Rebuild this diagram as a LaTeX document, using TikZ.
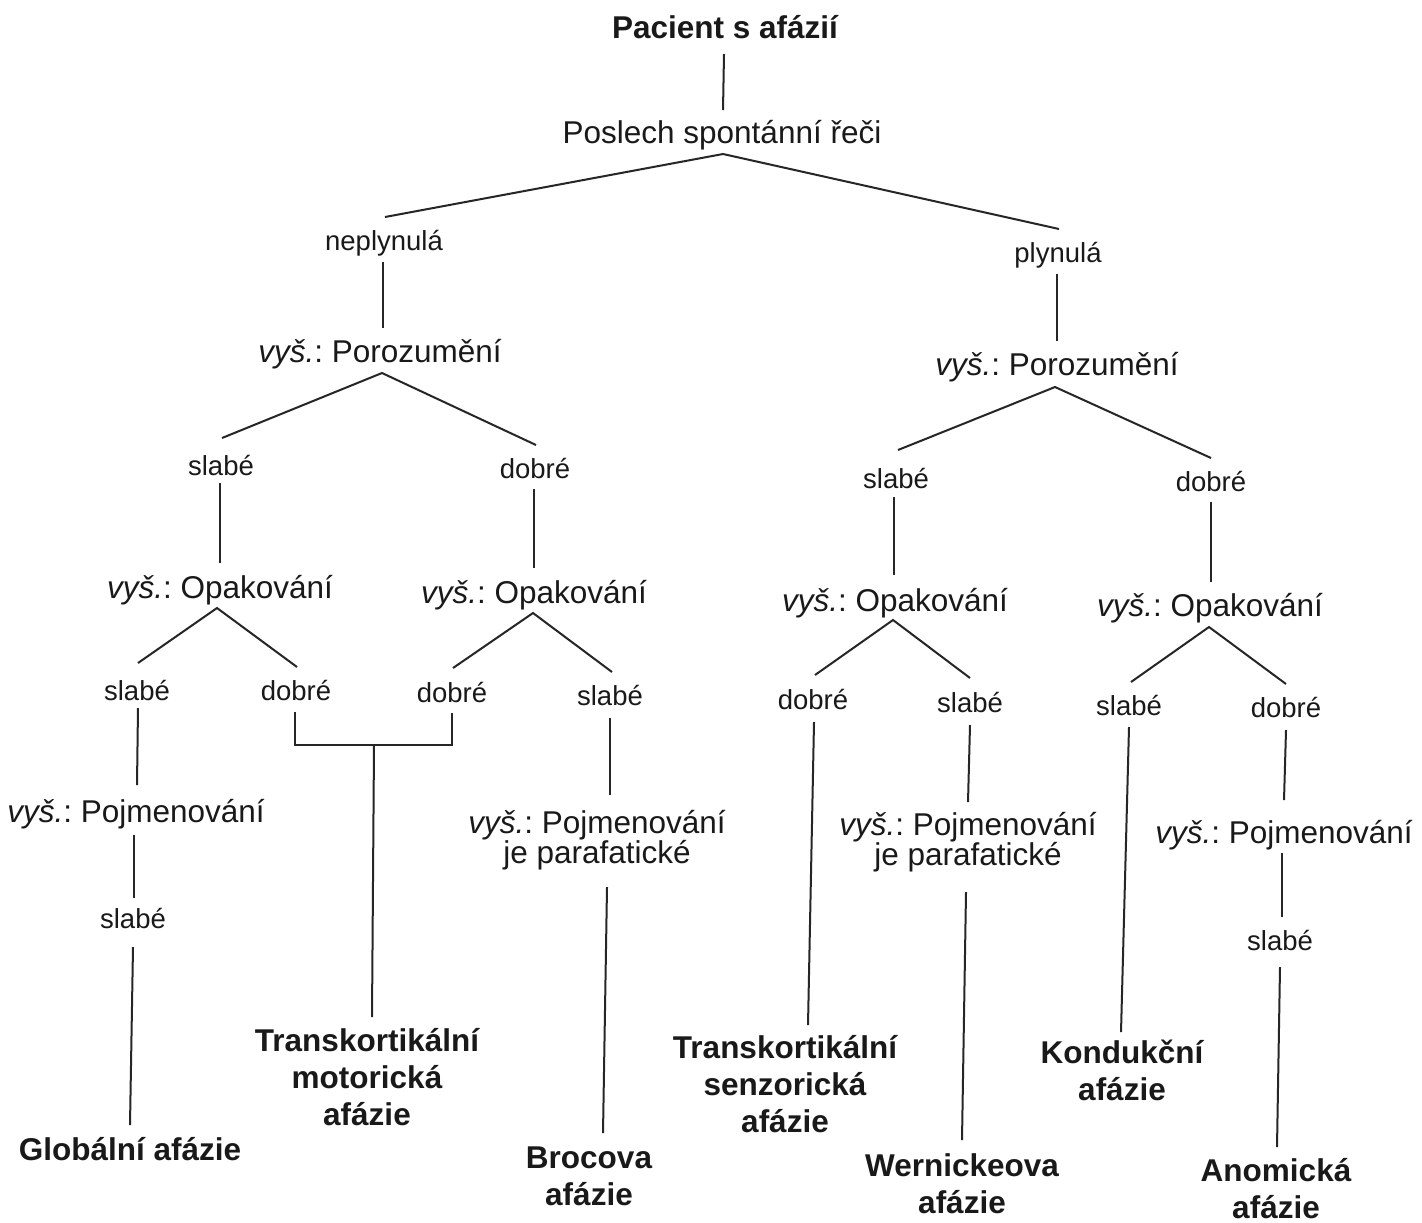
\documentclass[tikz,border=0pt]{standalone}
\usepackage{fontspec}
\setmainfont{Liberation Sans}
\usetikzlibrary{calc}
\tikzset{
  lbl/.style={inner sep=0pt, outer sep=0pt, anchor=base, text=black!90,
    font=\fontsize{15.75pt}{15pt}\selectfont, align=center},
  sml/.style={lbl, font=\fontsize{13.75pt}{16pt}\selectfont},
  res/.style={lbl, font=\fontsize{15.75pt}{18.5pt}\selectfont\bfseries},
  edge/.style={draw=black!85, line width=1pt}
}
\newcommand{\vys}{\textit{vyš.}:~}
\begin{document}
\begin{tikzpicture}[x=0.5pt,y=-0.5pt]
\useasboundingbox[fill=white] (0,0) rectangle (1422,1222);
% nodes (multi-line nodes: base = baseline of the last line)
\node[res] (p0) at (725,38) {Pacient s afázií};
\node[lbl] (p1) at (722,143) {Poslech spontánní řeči};
\node[sml] (n1) at (384,250) {neplynulá};
\node[sml] (f1) at (1058,262) {plynulá};
\node[lbl] (lp) at (380,362) {\vys Porozumění};
\node[lbl] (rp) at (1057,375) {\vys Porozumění};
\node[sml] (s1) at (221,475) {slabé};
\node[sml] (d1) at (535,478) {dobré};
\node[sml] (s2) at (896,488) {slabé};
\node[sml] (d2) at (1211,491) {dobré};
\node[lbl] (o1) at (220,598) {\vys Opakování};
\node[lbl] (o2) at (534,603) {\vys Opakování};
\node[lbl] (o3) at (895,611) {\vys Opakování};
\node[lbl] (o4) at (1210,616) {\vys Opakování};
\node[sml] (la) at (137,700) {slabé};
\node[sml] (lb) at (296,700) {dobré};
\node[sml] (lc) at (452,702) {dobré};
\node[sml] (ld) at (610,705) {slabé};
\node[sml] (le) at (813,709) {dobré};
\node[sml] (lf) at (970,712) {slabé};
\node[sml] (lg) at (1129,715) {slabé};
\node[sml] (lh) at (1286,717) {dobré};
\node[lbl] (q1) at (136,822) {\vys Pojmenování};
\node[sml] (q1s) at (133,928) {slabé};
\node[res] (glob) at (130,1160) {Globální afázie};
\node[res] (tm) at (367,1125) {Transkortikální\\motorická\\afázie};
\node[lbl] (r1) at (597,863) {\vys Pojmenování\\je parafatické};
\node[res] (broca) at (589,1205) {Brocova\\afázie};
\node[res] (ts) at (785,1132) {Transkortikální\\senzorická\\afázie};
\node[lbl] (r2) at (968,865) {\vys Pojmenování\\je parafatické};
\node[res] (wern) at (962,1213) {Wernickeova\\afázie};
\node[res] (kond) at (1122,1100) {Kondukční\\afázie};
\node[lbl] (q2) at (1284,843) {\vys Pojmenování};
\node[sml] (q2s) at (1280,950) {slabé};
\node[res] (anom) at (1276,1218) {Anomická\\afázie};
\coordinate (join) at (374,745);
% connectors
\draw[edge] ($(p0.base)+(-1,16)$) -- ($(p1.base)+(1,-33)$);
\draw[edge] ($(n1.base)+(1,-33)$) -- ($(p1.base)+(1,11)$) -- ($(f1.base)+(1,-33)$);
\draw[edge] ($(n1.base)+(-1,12)$) -- ($(lp.base)+(3,-34)$);
\draw[edge] ($(f1.base)+(-1,12)$) -- ($(rp.base)+(0,-34)$);
\draw[edge] ($(s1.base)+(1,-37)$) -- ($(lp.base)+(2,11)$) -- ($(d1.base)+(1,-33)$);
\draw[edge] ($(s2.base)+(2,-38)$) -- ($(rp.base)+(-2,12)$) -- ($(d2.base)+(0,-33)$);
\draw[edge] ($(s1.base)+(-1,8)$) -- ($(o1.base)+(0,-35)$);
\draw[edge] ($(d1.base)+(-1,11)$) -- ($(o2.base)+(0,-35)$);
\draw[edge] ($(s2.base)+(-2,9)$) -- ($(o3.base)+(-1,-36)$);
\draw[edge] ($(d2.base)+(0,11)$) -- ($(o4.base)+(1,-34)$);
\draw[edge] ($(la.base)+(1,-37)$) -- ($(o1.base)+(-3,10)$) -- ($(lb.base)+(1,-33)$);
\draw[edge] ($(lc.base)+(1,-34)$) -- ($(o2.base)+(-1,10)$) -- ($(ld.base)+(2,-33)$);
\draw[edge] ($(le.base)+(2,-34)$) -- ($(o3.base)+(-2,9)$) -- ($(lf.base)+(0,-34)$);
\draw[edge] ($(lg.base)+(2,-33)$) -- ($(o4.base)+(-1,11)$) -- ($(lh.base)+(0,-33)$);
\draw[edge] ($(la.base)+(1,8)$) -- ($(q1.base)+(1,-37)$);
\draw[edge] ($(q1.base)+(-2,13)$) -- ($(q1s.base)+(1,-30)$);
\draw[edge] ($(q1s.base)+(0,19)$) -- ($(glob.base)+(0,-35)$);
\draw[edge] ($(lb.base)+(-1,12)$) |- (join) -| ($(lc.base)+(0,11)$);
\draw[edge] (join) -- ($(tm.base)+(5,-108)$);
\draw[edge] ($(ld.base)+(0,13)$) -- ($(r1.base)+(13,-68)$);
\draw[edge] ($(r1.base)+(10,24)$) -- ($(broca.base)+(14,-72)$);
\draw[edge] ($(le.base)+(1,13)$) -- ($(ts.base)+(23,-107)$);
\draw[edge] ($(lf.base)+(0,13)$) -- ($(r2.base)+(0,-63)$);
\draw[edge] ($(r2.base)+(-2,27)$) -- ($(wern.base)+(0,-73)$);
\draw[edge] ($(lg.base)+(0,12)$) -- ($(kond.base)+(-1,-68)$);
\draw[edge] ($(lh.base)+(0,13)$) -- ($(q2.base)+(0,-43)$);
\draw[edge] ($(q2.base)+(-2,10)$) -- ($(q2s.base)+(2,-33)$);
\draw[edge] ($(q2s.base)+(0,17)$) -- ($(anom.base)+(1,-71)$);
\end{tikzpicture}
\end{document}
